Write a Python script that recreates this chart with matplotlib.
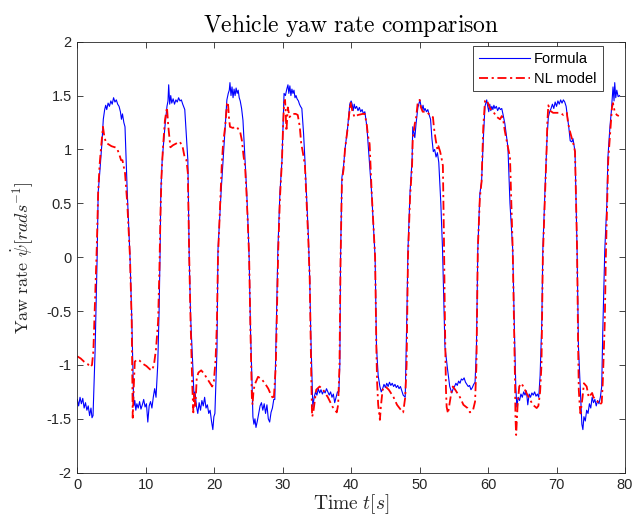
import numpy as np
import matplotlib
matplotlib.use("Agg")
import matplotlib.pyplot as plt
from matplotlib.ticker import FormatStrFormatter

# (time [s], yaw rate [rad/s])
formula = [
    (0.0, -1.32), (0.2, -1.38), (0.4, -1.30), (0.6, -1.36), (0.8, -1.31), (1.0, -1.40), (1.2, -1.35),
    (1.4, -1.42), (1.6, -1.38), (1.8, -1.47), (2.0, -1.40), (2.15, -1.49), (2.3, -1.47),
    (2.6, -0.87), (2.9, 0.0), (3.05, 0.6), (3.3, 0.8), (3.6, 1.06), (3.8, 1.28), (4.0, 1.37),
    (4.15, 1.41), (4.3, 1.37), (4.5, 1.43), (4.7, 1.40), (4.9, 1.45), (5.1, 1.42), (5.3, 1.48), (5.5, 1.44),
    (5.7, 1.46), (5.9, 1.42), (6.1, 1.40), (6.3, 1.35), (6.45, 1.28), (6.6, 1.33), (6.8, 1.25), (6.97, 1.21),
    (7.3, 0.6), (7.7, 0.0), (7.95, -0.55), (8.13, -1.07), (8.25, -1.38),
    (8.4, -1.33), (8.55, -1.42), (8.7, -1.36), (8.9, -1.40), (9.1, -1.34), (9.3, -1.41), (9.5, -1.37),
    (9.7, -1.32), (9.9, -1.39), (10.1, -1.36), (10.3, -1.53), (10.5, -1.38), (10.7, -1.34), (10.9, -1.40),
    (11.1, -1.30), (11.3, -1.22), (11.5, -1.3),
    (11.75, -1.0), (11.95, -0.5), (12.1, 0.07), (12.2, 0.6), (12.4, 0.9), (12.8, 1.21), (13.1, 1.4),
    (13.25, 1.45), (13.35, 1.6), (13.5, 1.42),
    (13.65, 1.50), (13.8, 1.43), (14.0, 1.47), (14.2, 1.42), (14.4, 1.46), (14.6, 1.44), (14.8, 1.48),
    (15.0, 1.45), (15.2, 1.46), (15.4, 1.42), (15.7, 1.37),
    (16.15, 0.9), (16.35, 0.0), (16.55, -0.55), (16.9, -1.05),
    (17.05, -1.3), (17.2, -1.25), (17.4, -1.38), (17.6, -1.45), (17.8, -1.35), (18.0, -1.42), (18.2, -1.33),
    (18.4, -1.38), (18.6, -1.30), (18.8, -1.40), (19.0, -1.37), (19.2, -1.45), (19.4, -1.42), (19.6, -1.52),
    (19.8, -1.60), (19.95, -1.48), (20.1, -1.45),
    (20.4, -0.87), (20.55, 0.07), (21.0, 0.6), (21.3, 0.9), (21.6, 1.21), (21.85, 1.46), (22.05, 1.52),
    (22.2, 1.55), (22.3, 1.62), (22.45, 1.50), (22.6, 1.58), (22.75, 1.48), (22.9, 1.56), (23.05, 1.50),
    (23.2, 1.57), (23.35, 1.52), (23.5, 1.55), (23.65, 1.48), (23.8, 1.45), (24.0, 1.38),
    (24.2, 1.27), (24.5, 0.9), (24.75, 0.6), (24.95, 0.28), (25.1, 0.0), (25.3, -0.68), (25.5, -1.11), (25.65, -1.48),
    (25.8, -1.55), (25.95, -1.50), (26.1, -1.58), (26.3, -1.52), (26.5, -1.45), (26.7, -1.38), (26.9, -1.35),
    (27.1, -1.42), (27.3, -1.36), (27.5, -1.45), (27.7, -1.37), (27.9, -1.50), (28.1, -1.53), (28.3, -1.44),
    (28.5, -1.40), (28.7, -1.32), (28.85, -1.32),
    (29.15, -0.4), (29.3, 0.07), (29.6, 0.6), (29.9, 0.9), (30.05, 1.21), (30.2, 1.52), (30.4, 1.50),
    (30.6, 1.56), (30.77, 1.60),
    (30.9, 1.52), (31.05, 1.59), (31.2, 1.50), (31.35, 1.56), (31.5, 1.52), (31.65, 1.55), (31.8, 1.48),
    (31.95, 1.50), (32.1, 1.47), (32.3, 1.45), (32.45, 1.42), (32.6, 1.40), (32.8, 1.38),
    (33.05, 1.15), (33.25, 0.9), (33.5, 0.55), (33.75, 0.2), (33.95, -0.2), (34.1, -0.7), (34.25, -1.05),
    (34.4, -1.39), (34.6, -1.30), (34.8, -1.25), (35.0, -1.28), (35.2, -1.22), (35.4, -1.26), (35.6, -1.23),
    (35.8, -1.27), (36.0, -1.24), (36.2, -1.26), (36.4, -1.22), (36.6, -1.25), (36.8, -1.28), (37.0, -1.25),
    (37.2, -1.30), (37.4, -1.27), (37.6, -1.35), (37.8, -1.30), (38.0, -1.25), (38.2, -1.25),
    (38.35, -1.0), (38.45, -0.03), (38.65, 0.74), (38.9, 0.85), (39.1, 1.0), (39.5, 1.21), (39.8, 1.42), (40.0, 1.45),
    (40.15, 1.42), (40.3, 1.36), (40.45, 1.42), (40.6, 1.38), (40.8, 1.40), (41.0, 1.36), (41.2, 1.39),
    (41.4, 1.35), (41.6, 1.37), (41.8, 1.33), (42.0, 1.35), (42.3, 1.21),
    (43.0, 0.59), (43.5, 0.0), (43.7, -0.83), (43.95, -1.1),
    (44.2, -1.2), (44.4, -1.25), (44.6, -1.22), (44.8, -1.18), (45.0, -1.21), (45.2, -1.17), (45.4, -1.20),
    (45.6, -1.16), (45.8, -1.19), (46.0, -1.17), (46.2, -1.20), (46.4, -1.18), (46.6, -1.21), (46.8, -1.19),
    (47.0, -1.22), (47.2, -1.20), (47.4, -1.24), (47.6, -1.28), (47.9, -1.3),
    (48.15, -0.5), (48.3, 0.07), (48.6, 0.6), (48.9, 0.9), (49.0, 1.21), (49.3, 1.11), (49.5, 1.25),
    (49.75, 1.39), (50.05, 1.46),
    (50.2, 1.40), (50.35, 1.37), (50.5, 1.41), (50.65, 1.36), (50.8, 1.38), (51.0, 1.35), (51.2, 1.37),
    (51.4, 1.32), (51.6, 1.28), (51.8, 1.1), (52.0, 0.98), (52.2, 1.0), (52.4, 0.93), (52.6, 0.97), (52.8, 0.88),
    (53.1, 0.5), (53.35, 0.07), (53.7, -0.83), (54.1, -1.05), (54.4, -1.2),
    (54.7, -1.26), (54.9, -1.22), (55.1, -1.20), (55.3, -1.17), (55.5, -1.19), (55.7, -1.15), (55.9, -1.17),
    (56.1, -1.13), (56.3, -1.14), (56.5, -1.12), (56.7, -1.16), (56.9, -1.18), (57.1, -1.20), (57.3, -1.19),
    (57.5, -1.23), (57.7, -1.21), (57.9, -1.18), (58.1, -1.16),
    (58.3, -0.85), (58.5, 0.07), (58.8, 0.59), (59.05, 0.7), (59.3, 1.09), (59.55, 1.4), (59.8, 1.46),
    (59.95, 1.40), (60.1, 1.35), (60.25, 1.42), (60.4, 1.36), (60.55, 1.40), (60.7, 1.37), (60.85, 1.41),
    (61.0, 1.38), (61.2, 1.40), (61.4, 1.36), (61.6, 1.39), (61.8, 1.37), (62.0, 1.38), (62.2, 1.32),
    (62.45, 1.24), (62.9, 1.02),
    (63.2, 0.5), (63.6, 0.07), (63.9, -0.83), (64.05, -1.2),
    (64.2, -1.39), (64.4, -1.30), (64.6, -1.33), (64.8, -1.27), (65.0, -1.30), (65.2, -1.25), (65.4, -1.28),
    (65.6, -1.24), (65.8, -1.37), (66.0, -1.27), (66.2, -1.30), (66.4, -1.26), (66.6, -1.28), (66.8, -1.25),
    (67.0, -1.29), (67.2, -1.27), (67.4, -1.3), (67.6, -1.1),
    (67.85, -0.6), (68.0, 0.07), (68.3, 0.6), (68.6, 1.09), (68.8, 1.3), (69.0, 1.35), (69.2, 1.38),
    (69.4, 1.42), (69.6, 1.38), (69.8, 1.44), (70.0, 1.40), (70.2, 1.45), (70.4, 1.42), (70.6, 1.46),
    (70.8, 1.43), (71.0, 1.46), (71.2, 1.44), (71.4, 1.40), (71.6, 1.30), (71.8, 1.2), (72.0, 1.08),
    (72.25, 1.07), (72.4, 1.1), (72.7, 0.98),
    (73.0, 0.07), (73.2, -0.83), (73.45, -1.2), (73.7, -1.55), (73.85, -1.6), (74.0, -1.48), (74.2, -1.52),
    (74.4, -1.42), (74.6, -1.45), (74.8, -1.36), (75.0, -1.40), (75.2, -1.30), (75.4, -1.35), (75.6, -1.32),
    (75.8, -1.38), (76.0, -1.33), (76.2, -1.36), (76.4, -1.30), (76.6, -1.2),
    (76.75, -0.7), (77.05, 0.07), (77.35, 0.5), (77.5, 0.92), (77.8, 1.21), (78.0, 1.35), (78.25, 1.58),
    (78.4, 1.45), (78.5, 1.62), (78.65, 1.48), (78.8, 1.55), (79.0, 1.49), (79.2, 1.50),
]

nl_model = [
    (0.0, -0.92), (0.5, -0.94), (1.0, -0.97), (1.5, -0.99), (1.9, -1.02), (2.15, -1.0), (2.35, -0.87),
    (2.6, -0.4), (2.85, 0.1), (3.05, 0.6), (3.25, 0.85), (3.45, 1.0), (3.75, 1.21), (3.95, 1.12), (4.2, 1.06),
    (4.5, 1.05), (5.0, 1.03), (5.5, 1.02), (5.8, 1.01), (6.1, 0.96), (6.4, 0.9), (6.6, 0.9), (6.97, 0.78),
    (7.3, 0.5), (7.7, 0.0), (7.95, -0.6), (8.05, -1.2), (8.1, -1.49), (8.25, -1.2), (8.4, -0.97), (8.7, -0.95),
    (9.1, -0.96), (9.6, -0.99), (10.1, -1.01), (10.6, -1.04), (10.9, -1.05), (11.2, -1.0), (11.5, -0.85),
    (11.8, -0.6), (12.0, -0.1), (12.15, 0.4), (12.3, 0.75), (12.5, 1.0), (12.8, 1.27), (13.1, 1.39),
    (13.3, 1.21), (13.6, 1.02), (14.0, 1.04), (14.6, 1.06), (15.0, 1.07), (15.4, 1.02), (15.7, 0.92),
    (15.95, 0.9), (16.15, 0.78),
    (16.35, 0.0), (16.55, -0.6), (16.8, -1.2), (16.95, -1.44), (17.1, -1.25), (17.25, -1.38), (17.45, -1.12),
    (17.7, -1.07), (18.1, -1.05), (18.5, -1.08), (18.9, -1.12), (19.3, -1.16), (19.7, -1.2), (19.95, -1.15),
    (20.2, -0.95),
    (20.4, -0.6), (20.55, 0.0), (20.9, 0.55), (21.1, 0.85), (21.3, 1.06), (21.6, 1.21), (21.85, 1.42),
    (22.0, 1.44), (22.15, 1.3), (22.3, 1.21), (22.7, 1.2), (23.3, 1.21), (23.8, 1.16), (24.05, 1.08), (24.3, 0.93),
    (24.5, 0.85), (24.75, 0.55), (24.95, 0.25), (25.1, 0.0), (25.3, -0.7), (25.5, -1.3), (25.6, -1.37),
    (25.75, -1.23), (26.0, -1.17), (26.4, -1.11), (26.9, -1.13), (27.4, -1.17), (27.9, -1.22), (28.3, -1.28),
    (28.7, -1.32), (29.0, -1.0),
    (29.2, -0.4), (29.35, 0.07), (29.6, 0.55), (29.9, 0.9), (30.05, 1.2), (30.2, 1.43), (30.35, 1.46),
    (30.55, 1.17), (30.75, 1.39), (31.0, 1.3), (31.4, 1.33), (31.9, 1.33), (32.2, 1.32), (32.5, 1.21),
    (32.7, 1.06), (32.95, 0.97),
    (33.25, 0.85), (33.5, 0.5), (33.75, 0.15), (33.95, -0.2), (34.1, -0.8), (34.2, -1.2), (34.3, -1.48),
    (34.45, -1.45), (34.65, -1.35), (34.9, -1.23), (35.4, -1.2), (35.9, -1.23), (36.6, -1.3), (37.3, -1.39),
    (37.9, -1.44), (38.1, -1.37), (38.3, -1.0),
    (38.45, -0.05), (38.65, 0.7), (38.9, 0.82), (39.1, 1.0), (39.5, 1.2), (39.9, 1.44), (40.2, 1.35),
    (40.5, 1.3), (41.0, 1.32), (41.7, 1.33), (42.0, 1.33), (42.3, 1.22), (42.45, 1.13), (42.7, 1.05),
    (43.0, 0.6), (43.5, 0.0), (43.7, -0.9), (43.8, -1.17), (43.95, -1.37), (44.2, -1.51), (44.35, -1.38),
    (44.6, -1.23), (45.0, -1.2), (45.5, -1.23), (46.2, -1.3), (46.7, -1.37), (47.3, -1.42), (47.6, -1.44),
    (47.9, -1.3), (48.1, -1.0),
    (48.3, 0.0), (48.6, 0.55), (48.9, 0.85), (49.0, 1.1), (49.3, 1.24), (49.5, 1.3), (49.7, 1.42),
    (50.0, 1.46), (50.2, 1.39), (50.45, 1.35), (51.0, 1.35), (51.5, 1.32), (51.95, 1.3), (52.1, 1.2),
    (52.35, 1.09), (52.6, 1.0), (52.75, 1.03), (53.0, 0.98), (53.2, 0.92), (53.4, 0.85),
    (53.55, 0.2), (53.7, -0.6), (53.85, -1.23), (53.95, -1.39), (54.15, -1.45), (54.35, -1.37), (54.7, -1.23),
    (54.85, -1.2), (55.2, -1.23), (55.9, -1.3), (56.4, -1.37), (57.0, -1.4), (57.35, -1.44), (57.8, -1.42),
    (58.1, -1.34), (58.3, -1.0),
    (58.5, 0.07), (58.8, 0.55), (59.05, 0.7), (59.3, 1.21), (59.55, 1.45), (59.8, 1.46), (60.3, 1.38),
    (60.75, 1.35), (61.3, 1.3), (61.75, 1.28), (62.0, 1.31), (62.2, 1.28), (62.45, 1.17), (62.9, 1.02), (63.2, 0.93),
    (63.6, 0.07), (63.85, -0.8), (63.95, -1.2), (64.0, -1.48), (64.1, -1.65), (64.3, -1.39), (64.55, -1.2),
    (64.85, -1.17), (65.15, -1.2), (65.6, -1.26), (66.1, -1.32), (66.55, -1.37), (67.1, -1.4), (67.35, -1.38),
    (67.6, -1.25), (67.8, -1.0),
    (68.0, 0.0), (68.3, 0.55), (68.55, 1.0), (68.65, 1.24), (68.8, 1.41), (69.05, 1.36), (69.5, 1.34),
    (70.5, 1.34), (71.0, 1.32), (71.5, 1.34), (71.7, 1.24), (71.95, 1.17), (72.25, 1.1), (72.4, 1.07), (72.7, 0.98),
    (73.0, 0.07), (73.15, -0.8), (73.25, -1.23), (73.4, -1.39), (73.5, -1.45), (73.8, -1.3), (74.0, -1.17),
    (74.4, -1.2), (74.7, -1.3), (75.2, -1.26), (75.4, -1.3), (75.9, -1.33), (76.3, -1.37), (76.6, -1.35),
    (76.75, -1.17), (77.05, -0.6),
    (77.2, 0.0), (77.4, 0.5), (77.55, 0.9), (77.9, 1.21), (78.1, 1.39), (78.25, 1.43), (78.5, 1.35),
    (78.8, 1.32), (79.1, 1.31),
]

x_ticks = [0, 10, 20, 30, 40, 50, 60, 70, 80]
y_ticks = [-2, -1.5, -1, -0.5, 0, 0.5, 1, 1.5, 2]

plt.rcParams['font.family'] = ['Liberation Sans', 'DejaVu Sans']
plt.rcParams['mathtext.fontset'] = 'cm'
plt.rcParams['axes.unicode_minus'] = False

ink = '#262626'

fig = plt.figure(figsize=(6.34, 5.25), dpi=100)
ax = fig.add_axes([0.1219, 0.0996, 0.8639, 0.8210])

t1, y1 = np.array(formula).T
t2, y2 = np.array(nl_model).T
ax.plot(t1, y1, color='#0000ff', lw=0.8, label='Formula')
ax.plot(t2, y2, color='#ff0000', lw=1.3, ls=(0, (5, 2, 1.2, 2)), label='NL model')

ax.set_xlim(0, 80)
ax.set_ylim(-2, 2)
ax.set_xticks(x_ticks)
ax.set_yticks(y_ticks)
ax.yaxis.set_major_formatter(FormatStrFormatter('%g'))
ax.tick_params(direction='in', length=4, width=0.6, top=True, right=True,
               labelsize=10.5, colors=ink, pad=4)
for s in ax.spines.values():
    s.set_color(ink)
    s.set_linewidth(0.6)

ax.set_title(r'$\mathrm{Vehicle\ yaw\ rate\ comparison}$', fontsize=17, color='black', pad=7)
ax.set_xlabel(r'$\mathrm{Time}\ t[s]$', fontsize=14, color=ink, labelpad=0)
ax.set_ylabel(r'$\mathrm{Yaw\ rate}\ \dot{\psi}[rads^{-1}]$', fontsize=13, color=ink, labelpad=8)

leg = ax.legend(loc='upper right', bbox_to_anchor=(0.959, 0.990), borderaxespad=0,
                fontsize=10.5, handlelength=3.5, fancybox=False, framealpha=1,
                edgecolor=ink, borderpad=0.4, labelspacing=0.4, handletextpad=0.3)
leg.get_frame().set_linewidth(0.6)

fig.savefig('out.png', dpi=100)
